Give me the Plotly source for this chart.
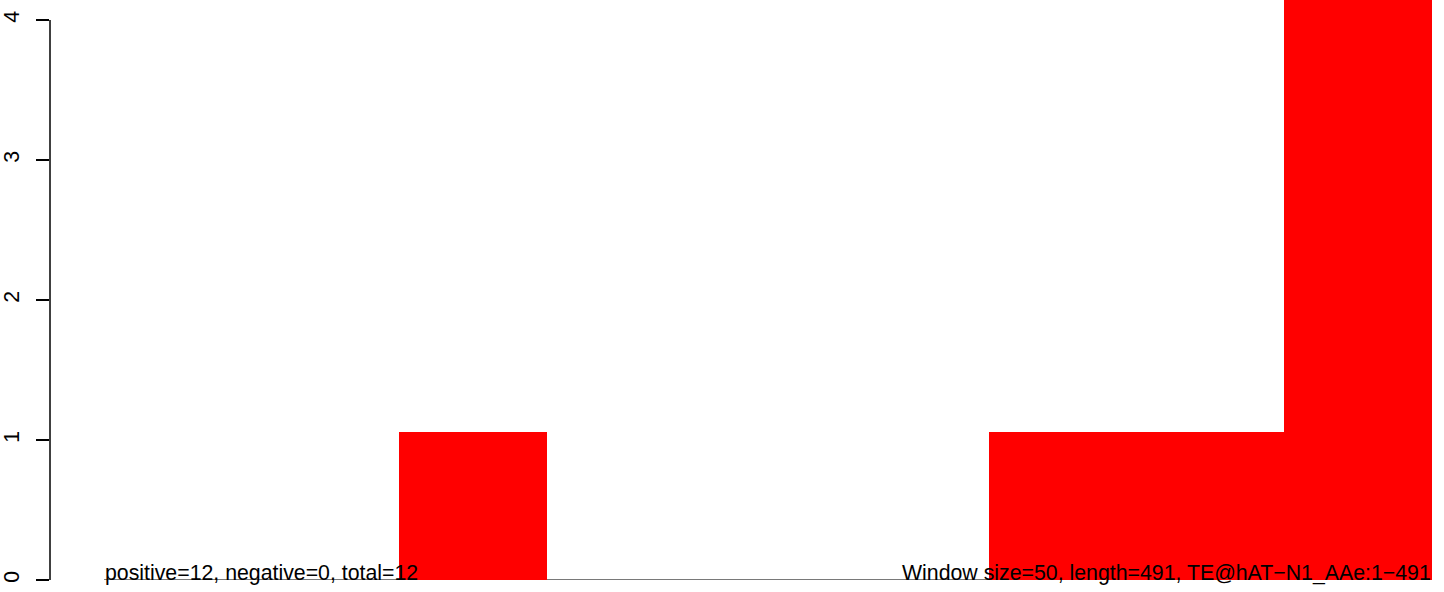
import plotly.graph_objects as go

# data
window_size = 50
seq_length = 491
window_starts = [0, 50, 100, 150, 200, 250, 300, 350, 400, 450]
counts = [0, 0, 0, 1.06, 0, 0, 0, 1.06, 1.06, 9]
y_ticks = [0, 1, 2, 3, 4]
left_label = "positive=12, negative=0, total=12"
right_label = "Window size=50, length=491, TE@hAT\u2212N1_AAe:1\u2212491"

FONT = "Liberation Sans, Arial, Helvetica, sans-serif"
FS = 21.3

centers = [s + window_size / 2 for s in window_starts]

fig = go.Figure()
fig.add_trace(go.Bar(
    x=centers, y=counts, width=[window_size] * len(centers),
    marker=dict(color="#ff0000", line=dict(width=0)),
    hoverinfo="skip", showlegend=False,
))

line_start = window_starts[1]
line_end = window_starts[-1] + window_size

fig.add_shape(type="line", xref="x", yref="y", x0=line_start, x1=line_end, y0=0, y1=0,
              line=dict(color="#4d4d4d", width=1.5), layer="below")
fig.add_shape(type="line", xref="paper", yref="y", x0=0, x1=0, y0=y_ticks[0], y1=y_ticks[-1],
              line=dict(color="black", width=1.5), layer="above")

fig.add_annotation(x=line_start, y=0, xref="x", yref="y", text=left_label,
                   xanchor="left", yanchor="bottom", showarrow=False, yshift=-6,
                   font=dict(family=FONT, size=FS, color="black"), borderpad=0)
fig.add_annotation(x=line_end, y=0, xref="x", yref="y", text=right_label,
                   xanchor="right", yanchor="bottom", showarrow=False, yshift=-6,
                   font=dict(family=FONT, size=FS, color="black"), borderpad=0)

fig.update_layout(
    width=1444, height=592,
    margin=dict(l=50, r=0, t=0, b=12, pad=0),
    paper_bgcolor="white", plot_bgcolor="white",
    font=dict(family=FONT, size=FS, color="black"),
    xaxis=dict(range=[31.68, 504.07], visible=False, fixedrange=True),
    yaxis=dict(range=[0, 580 / 140], tickvals=y_ticks, ticktext=[str(v) for v in y_ticks],
               ticks="outside", ticklen=13, tickwidth=1.5, tickcolor="black",
               showline=False, showgrid=False, zeroline=False, tickangle=-90,
               ticklabelstandoff=8,
               tickfont=dict(family=FONT, size=FS, color="black"), fixedrange=True),
    bargap=0,
)

fig.write_html("out.html", config={"displayModeBar": False, "staticPlot": True},
               post_script="document.body.style.margin='0';document.body.style.overflow='hidden';")
